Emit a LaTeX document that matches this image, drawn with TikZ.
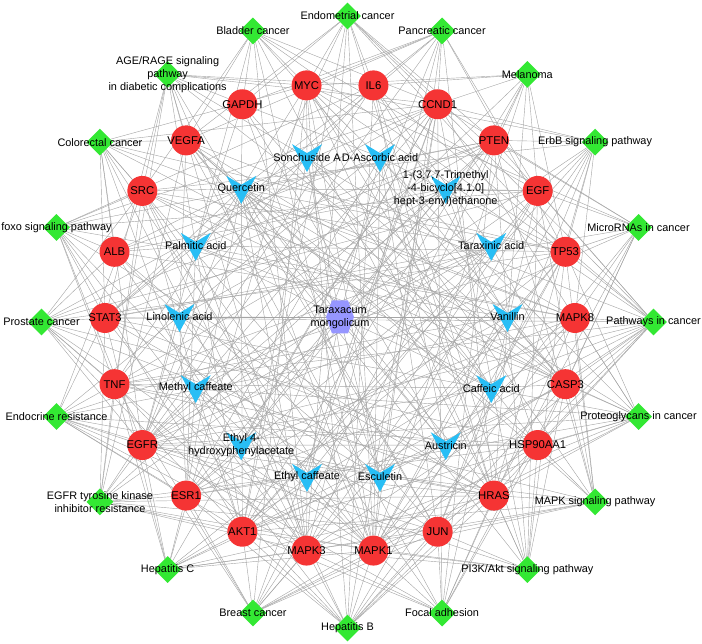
\documentclass[tikz,border=0pt]{standalone}
\usepackage{fontspec}
\setmainfont{Liberation Sans}
\usetikzlibrary{shapes.geometric,calc}
\pgfdeclarelayer{background}
\pgfsetlayers{background,main}
\definecolor{tgreen}{RGB}{51,232,51}
\definecolor{tred}{RGB}{245,52,52}
\definecolor{tblue}{RGB}{40,190,245}
\definecolor{tpurple}{RGB}{150,150,255}
\definecolor{tedge}{RGB}{165,165,165}
\tikzset{
  pathw/.style={diamond,fill=tgreen,draw=none,minimum width=27pt,minimum height=27pt,inner sep=0pt},
  target/.style={circle,fill=tred,draw=none,minimum size=30pt,inner sep=0pt},
  cpd/.style={inner sep=0pt,minimum size=0pt},
  lbl/.style={align=center,inner sep=0pt,font=\fontsize{10.9}{13}\selectfont},
  tlbl/.style={inner sep=0pt,font=\fontsize{11.3}{13}\selectfont},
  edge/.style={draw=tedge,line width=0.42pt},
}
\begin{document}
\begin{tikzpicture}[x=1pt,y=1pt]
\useasboundingbox (0,0) rectangle (702,644);
\coordinate (G) at (347.5,322);
\coordinate (R) at (340,326);
\coordinate (B) at (343.5,327);

% pathways (green diamonds)
\foreach \n/\a/\t in {endo/90/{Endometrial cancer}, blad/108/{Bladder cancer},
  age/126/{AGE/RAGE signaling\\pathway\\in diabetic complications},
  colo/144/{Colorectal cancer}, foxo/162/{foxo signaling pathway},
  prost/180/{Prostate cancer}, endocr/198/{Endocrine resistance},
  egfrtki/216/{EGFR tyrosine kinase\\inhibitor resistance},
  hepc/234/{Hepatitis C}, breast/252/{Breast cancer}, hepb/270/{Hepatitis B},
  focal/288/{Focal adhesion}, pik/306/{PI3K/Akt signaling pathway},
  mapks/324/{MAPK signaling pathway}, prot/342/{Proteoglycans in cancer},
  pwc/0/{Pathways in cancer}, mirna/18/{MicroRNAs in cancer},
  erbb/36/{ErbB signaling pathway}, mela/54/{Melanoma}, panc/72/{Pancreatic cancer}}
{
  \node[pathw] (\n) at ($(G)+(\a:306)$) {};
  \node[lbl] (\n-t) at (\n) {\t};
}

% targets (red circles)
\foreach \n/\a/\t in {MYC/98.18/MYC, GAPDH/114.55/GAPDH, VEGFA/130.91/VEGFA,
  SRC/147.27/SRC, ALB/163.64/ALB, STAT3/180/STAT3, TNF/196.36/TNF,
  EGFR/212.73/EGFR, ESR1/229.09/ESR1, AKT1/245.45/AKT1, MAPK3/261.82/MAPK3,
  MAPK1/278.18/MAPK1, JUN/294.55/JUN, HRAS/310.91/HRAS, HSP/327.27/HSP90AA1,
  CASP3/343.64/CASP3, MAPK8/0/MAPK8, TP53/16.36/TP53, EGF/32.73/EGF,
  PTEN/49.09/PTEN, CCND1/65.45/CCND1, IL6/81.82/IL6}
{
  \node[target] (\n) at ($(R)+(\a:235)$) {};
  \node[tlbl] (\n-t) at (\n) {\t};
}

% compounds (blue V shapes)
\foreach \n/\a in {sonch/102.86, querc/128.57, palm/154.29, lino/180,
  mcaf/205.71, ehpa/231.43, ecaf/257.14, escu/282.86, aust/308.57,
  caff/334.29, vani/0, tarax/25.71, trim/51.43, ascor/77.14}
{
  \node[cpd] (\n) at ($(B)+(\a:164)$) {};
  \fill[tblue,shift={(\n)}] (-15,13) -- (0,4) -- (15,13) -- (0,-15) -- cycle;
}
\foreach \n/\t in {sonch/{Sonchuside A}, querc/{Quercetin},
  palm/{Palmitic acid}, lino/{Linolenic acid},
  mcaf/{Methyl caffeate}, ehpa/{Ethyl 4-\\hydroxyphenylacetate},
  ecaf/{Ethyl caffeate}, escu/{Esculetin},
  aust/{Austricin}, caff/{Caffeic acid}, vani/{Vanillin},
  tarax/{Taraxinic acid},
  trim/{1-(3,7,7-Trimethyl\\-4-bicyclo[4.1.0]\\hept-3-enyl)ethanone},
  ascor/{D-Ascorbic acid}}
{
  \node[lbl] (\n-t) at (\n) {\t};
}

% herb (purple hexagon)
\node[cpd] (herb) at (340,327) {};
\fill[tpurple,shift={(herb)}] (-14,0) -- (-8,16.5) -- (8,16.5) -- (14,0) -- (8,-16.5) -- (-8,-16.5) -- cycle;
\node[lbl] (herb-t) at (herb) {Taraxacum\\mongolicum};

\begin{pgfonlayer}{background}
% herb - compounds
\foreach \c in {sonch,querc,palm,lino,mcaf,ehpa,ecaf,escu,aust,caff,vani,tarax,trim,ascor}
  \draw[edge] (herb) -- (\c);
% compounds - targets
\foreach \c/\ts in {
  sonch/{MYC,IL6,TNF,STAT3,CASP3,AKT1,MAPK1,HSP},
  ascor/{MAPK1,CASP3,TP53,ALB,GAPDH,JUN,HRAS,ESR1},
  querc/{MYC,IL6,GAPDH,VEGFA,SRC,ALB,TP53,STAT3,MAPK8,TNF,CASP3,EGFR,HSP,ESR1,AKT1,JUN,MAPK1,MAPK3,EGF,CCND1,PTEN,HRAS},
  trim/{ESR1,EGFR,HSP,PTEN,EGF,ALB,STAT3,TNF},
  palm/{ALB,PTEN,ESR1,MAPK3,GAPDH,CASP3,MAPK8,TP53},
  tarax/{STAT3,TNF,CASP3,IL6,SRC,AKT1,EGFR,ESR1},
  lino/{ALB,MAPK8,ESR1,HRAS,EGFR,VEGFA,MAPK1,PTEN},
  vani/{SRC,ALB,CASP3,MAPK1,TNF,ESR1,STAT3,IL6},
  mcaf/{AKT1,MAPK1,MAPK3,EGFR,SRC,ESR1,JUN,CCND1},
  caff/{MYC,VEGFA,TP53,TNF,CASP3,MAPK1,JUN,GAPDH,EGFR,SRC},
  ehpa/{ESR1,ALB,CCND1,PTEN,EGFR,HSP,MAPK8,HRAS},
  aust/{STAT3,HSP,TNF,IL6,MAPK8,AKT1,VEGFA,GAPDH},
  ecaf/{AKT1,HRAS,EGF,SRC,EGFR,MAPK3,ESR1,CCND1},
  escu/{CCND1,MYC,GAPDH,ALB,STAT3,CASP3,TP53,MAPK1,EGF}}
  \foreach \t in \ts \draw[edge] (\c) -- (\t);
% pathways - targets
\foreach \p/\ts in {
  blad/{MYC,VEGFA,SRC,EGF,TP53,CCND1,HRAS,MAPK1,MAPK3,EGFR,GAPDH,CASP3},
  endo/{MYC,CCND1,PTEN,TP53,AKT1,HRAS,MAPK1,MAPK3,EGF,EGFR,GAPDH,VEGFA,IL6},
  panc/{CCND1,STAT3,TP53,AKT1,EGF,EGFR,VEGFA,MAPK1,MAPK3,HRAS,IL6,MYC,GAPDH},
  mela/{PTEN,CCND1,TP53,EGF,EGFR,HRAS,MAPK1,MAPK3,AKT1,IL6,MYC},
  erbb/{EGF,EGFR,SRC,MYC,HRAS,AKT1,MAPK1,MAPK3,MAPK8,JUN,PTEN,CCND1,TP53},
  mirna/{MYC,CCND1,PTEN,TP53,EGFR,HRAS,MAPK1,STAT3,EGF,CASP3,MAPK8,HSP},
  pwc/{MYC,IL6,CCND1,VEGFA,PTEN,EGF,TP53,STAT3,MAPK8,CASP3,EGFR,HSP,HRAS,AKT1,JUN,MAPK3,MAPK1,ESR1,TNF},
  prot/{MYC,CCND1,VEGFA,SRC,TP53,TNF,CASP3,EGFR,ESR1,HRAS,AKT1,MAPK1,MAPK3,STAT3,HSP,MAPK8},
  mapks/{EGF,EGFR,HRAS,JUN,MAPK1,MAPK3,MAPK8,TNF,CASP3,AKT1,TP53,MYC,VEGFA,HSP,PTEN},
  pik/{IL6,MYC,CCND1,VEGFA,PTEN,EGF,TP53,EGFR,HSP,HRAS,AKT1,MAPK1,MAPK3,JUN,CASP3},
  focal/{CCND1,VEGFA,PTEN,SRC,EGF,EGFR,HRAS,AKT1,JUN,MAPK1,MAPK3,MAPK8,HSP,CASP3},
  hepb/{MYC,IL6,STAT3,TNF,CASP3,TP53,AKT1,JUN,MAPK1,MAPK3,MAPK8,SRC,HRAS,CCND1,HSP,ESR1},
  breast/{MYC,CCND1,PTEN,EGF,TP53,EGFR,ESR1,HRAS,AKT1,JUN,MAPK1,MAPK3,HSP,TNF},
  hepc/{MYC,TNF,CASP3,TP53,AKT1,HRAS,MAPK1,MAPK3,MAPK8,STAT3,CCND1,EGFR,JUN,ESR1},
  egfrtki/{IL6,STAT3,SRC,EGF,EGFR,HRAS,AKT1,MAPK1,MAPK3,PTEN,VEGFA,TNF,HSP,ESR1,JUN},
  endocr/{ESR1,EGFR,HRAS,AKT1,JUN,MAPK1,MAPK3,MAPK8,SRC,CCND1,TP53,TNF,STAT3,HSP},
  prost/{CCND1,TP53,PTEN,EGF,EGFR,HSP,HRAS,AKT1,MAPK1,MAPK3,STAT3,TNF,ALB,SRC},
  foxo/{IL6,CCND1,PTEN,EGF,EGFR,STAT3,HRAS,AKT1,MAPK1,MAPK3,MAPK8,SRC,ALB,TNF},
  colo/{MYC,CCND1,TP53,CASP3,AKT1,JUN,MAPK1,MAPK3,MAPK8,SRC,ALB,STAT3,VEGFA,EGFR},
  age/{IL6,VEGFA,STAT3,TNF,CASP3,AKT1,JUN,MAPK1,MAPK3,MAPK8,GAPDH,SRC,MYC,CCND1}}
  \foreach \t in \ts \draw[edge] (\p) -- (\t);
\end{pgfonlayer}
\end{tikzpicture}
\end{document}
